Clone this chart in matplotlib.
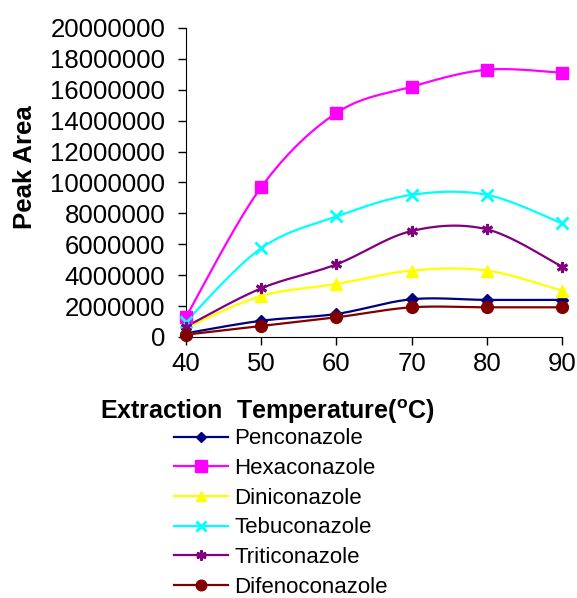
import numpy as np
import matplotlib
matplotlib.use("Agg")
import matplotlib.pyplot as plt

plt.rcParams['font.family'] = ['Liberation Sans', 'DejaVu Sans']

temps = [40, 50, 60, 70, 80, 90]
penconazole = [240000, 1050000, 1490000, 2440000, 2400000, 2400000]
hexaconazole = [1300000, 9700000, 14500000, 16200000, 17300000, 17100000]
diniconazole = [600000, 2650000, 3430000, 4300000, 4300000, 3000000]
tebuconazole = [1000000, 5750000, 7800000, 9200000, 9200000, 7350000]
triticonazole = [670000, 3150000, 4700000, 6860000, 6970000, 4550000]
difenoconazole = [150000, 710000, 1270000, 1920000, 1920000, 1920000]

names = ['Penconazole', 'Hexaconazole', 'Diniconazole', 'Tebuconazole',
         'Triticonazole', 'Difenoconazole']
series = [penconazole, hexaconazole, diniconazole, tebuconazole,
          triticonazole, difenoconazole]
colors = ['#000080', '#FF00FF', '#FFFF00', '#00FFFF', '#800080', '#800000']
markers = ['D', 's', '^', 'x', (6, 2, 0), 'o']
msizes = [6, 9, 8.5, 8, 8, 8.5]


def smooth(x, y, n=30):
    # excel-style smoothed line (catmull-rom as bezier)
    x = np.asarray(x, float)
    y = np.asarray(y, float)
    px = np.concatenate([[x[0]], x, [x[-1]]])
    py = np.concatenate([[y[0]], y, [y[-1]]])
    xs, ys = [], []
    t = np.linspace(0, 1, n)
    for i in range(1, len(px) - 2):
        p0 = np.array([px[i], py[i]])
        p3 = np.array([px[i + 1], py[i + 1]])
        c1 = p0 + (np.array([px[i + 1], py[i + 1]]) - np.array([px[i - 1], py[i - 1]])) / 6
        c2 = p3 - (np.array([px[i + 2], py[i + 2]]) - np.array([px[i], py[i]])) / 6
        b = ((1 - t) ** 3)[:, None] * p0 + (3 * (1 - t) ** 2 * t)[:, None] * c1 \
            + (3 * (1 - t) * t ** 2)[:, None] * c2 + (t ** 3)[:, None] * p3
        xs.extend(b[:, 0])
        ys.extend(b[:, 1])
    return xs, ys


fig = plt.figure(figsize=(5.77, 5.98), dpi=100)
ax = fig.add_axes([0.3224, 0.4365, 0.6516, 0.5167])

handles = []
for name, vals, c, m, ms in zip(names, series, colors, markers, msizes):
    sx, sy = smooth(temps, vals)
    ax.plot(sx, sy, color=c, lw=1.6, clip_on=False)
    ax.plot(temps, vals, ls='none', marker=m, color=c, ms=ms, mew=2 if m in ('x', (6, 2, 0)) else 1,
            clip_on=False, zorder=3)
    h, = ax.plot([], [], color=c, lw=1.6, marker=m, ms=ms * 0.9,
                 mew=2 if m in ('x', (6, 2, 0)) else 1)
    handles.append(h)

ax.set_xlim(40, 90)
ax.set_ylim(0, 20000000)
ax.set_xticks(temps)
ax.set_yticks(np.arange(0, 20000001, 2000000))
ax.yaxis.set_major_formatter(matplotlib.ticker.FuncFormatter(lambda v, p: '%d' % v))
ax.tick_params(labelsize=18.5, length=6, width=1, direction='out')
ax.tick_params(axis='y', pad=9)
ax.tick_params(axis='x', pad=5)
for s in ['top', 'right']:
    ax.spines[s].set_visible(False)

fig.text(0.044, 0.72, 'Peak Area', rotation=90, fontsize=18.5, fontweight='bold',
         ha='center', va='center')
fig.text(0.173, 0.312, r'Extraction  Temperature($\mathregular{^o}$C)', fontsize=18,
         fontweight='bold', ha='left', va='center')

fig.legend(handles, names, loc='upper left', bbox_to_anchor=(0.302, 0.2835),
           frameon=False, fontsize=16, handlelength=2.4, handletextpad=0.3,
           labelspacing=0.39, borderpad=0, borderaxespad=0)

fig.savefig('out.png', dpi=100)
